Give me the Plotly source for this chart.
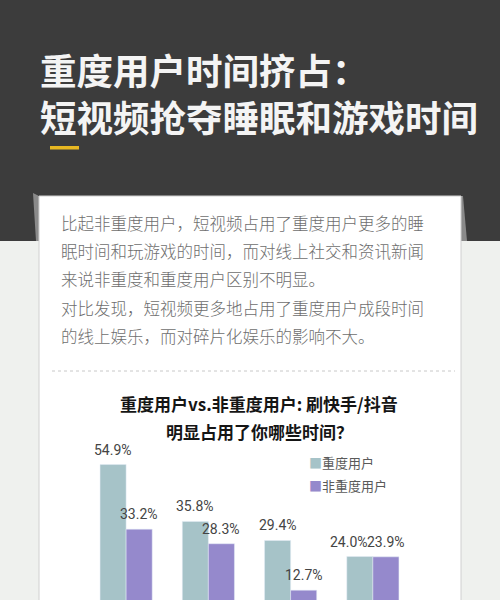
import plotly.graph_objects as go

W, H = 500, 600

# data (category labels are cut off at the bottom)
categories = ['睡眠时间', '玩游戏时间', '成段线上娱乐', '碎片化娱乐']
heavy = [54.9, 35.8, 29.4, 24.0]
light = [33.2, 28.3, 12.7, 23.9]
series_names = ['重度用户', '非重度用户']

colors = ['#a6c3c8', '#9589cc']
dark = '#3c3c3c'
page_bg = '#eff1ee'

header = ['重度用户时间挤占：', '短视频抢夺睡眠和游戏时间']
intro = [
    '比起非重度用户，短视频占用了重度用户更多的睡',
    '眠时间和玩游戏的时间，而对线上社交和资讯新闻',
    '来说非重度和重度用户区别不明显。',
    '对比发现，短视频更多地占用了重度用户成段时间',
    '的线上娱乐，而对碎片化娱乐的影响不大。',
]
chart_title = ['重度用户vs.非重度用户: 刷快手/抖音', '明显占用了你哪些时间？']

cjk = 'Noto Sans CJK SC'


def px(x):
    return x / W


def py(y):
    return 1 - y / H


def path(points):
    s = 'M' + ' L'.join('%.4f,%.4f' % (px(x), py(y)) for x, y in points)
    return s + ' Z'


fig = go.Figure()
for name, vals, c in zip(series_names, [heavy, light], colors):
    fig.add_trace(go.Bar(x=categories, y=vals, name=name, marker_color=c,
                         showlegend=False))

shapes = [
    # dark header block
    dict(type='rect', xref='paper', yref='paper', x0=0, x1=1,
         y0=py(241), y1=1, fillcolor=dark, line_width=0, layer='below'),
    # fold shadows at card corners
    dict(type='path', xref='paper', yref='paper',
         path=path([(33, 193), (39, 196), (39, 241), (36, 241)]),
         fillcolor='#8a8a8a', line_width=0, layer='below'),
    dict(type='path', xref='paper', yref='paper',
         path=path([(461, 196), (463, 196), (467, 241), (461, 241)]),
         fillcolor='#8a8a8a', line_width=0, layer='below'),
    # white card
    dict(type='rect', xref='paper', yref='paper', x0=px(39), x1=px(461),
         y0=-0.01, y1=py(196), fillcolor='white',
         line=dict(color='#d0d0d0', width=1), layer='below'),
    # yellow accent
    dict(type='rect', xref='paper', yref='paper', x0=px(50), x1=px(79),
         y0=py(149.5), y1=py(146), fillcolor='#e8b822', line_width=0),
    # dotted separator
    dict(type='line', xref='paper', yref='paper', x0=px(52), x1=px(455),
         y0=py(371), y1=py(371), line=dict(color='#c8c8c8', width=1, dash='dot')),
]

annotations = [dict(
    text='<b>' + '<br>'.join(header) + '</b>', x=px(38), y=py(93.3),
    xref='paper', yref='paper', xanchor='left', yanchor='middle', align='left',
    showarrow=False, font=dict(family=cjk, size=36.5, color='#f4f4f4'))]
for i, t in enumerate(intro):
    annotations.append(dict(
        text=t, x=px(59), y=py(223 + i * 28.2), xref='paper', yref='paper',
        xanchor='left', yanchor='middle', showarrow=False,
        font=dict(family=cjk, size=16.5, color='#6e6e6e', weight=300)))
for i, t in enumerate(chart_title):
    annotations.append(dict(
        text='<b>%s</b>' % t, x=px(259), y=py(403 + i * 28), xref='paper', yref='paper',
        xanchor='center', yanchor='middle', showarrow=False,
        font=dict(family=cjk, size=17, color='#151515')))
# legend
for i, (name, c) in enumerate(zip(series_names, colors)):
    annotations.append(dict(
        text='<span style="color:%s">■</span>%s' % (c, name),
        x=px(307), y=py(463 + i * 22), xref='paper', yref='paper',
        xanchor='left', yanchor='middle', showarrow=False,
        font=dict(family=cjk, size=13, color='#5a5a5a')))

# value labels above the bars; when a pair is nearly equal the left label
# is pushed aside so the two do not run into each other
for j, cat in enumerate(categories):
    tie = abs(heavy[j] - light[j]) < 3
    for k, vals in enumerate([heavy, light]):
        shift = -13 if k == 0 else 13
        if tie and k == 0:
            shift -= 11
        annotations.append(dict(
            text='%.1f%%' % vals[j], x=cat, y=vals[j], xref='x', yref='y',
            xanchor='center', yanchor='bottom', xshift=shift, yshift=5,
            showarrow=False, font=dict(family='Roboto', size=14, color='#444444')))

fig.update_layout(
    width=W, height=H,
    margin=dict(l=0, r=0, t=0, b=0),
    paper_bgcolor=page_bg, plot_bgcolor='rgba(0,0,0,0)',
    barmode='group', bargap=0.366, bargroupgap=0,
    shapes=shapes, annotations=annotations,
    xaxis=dict(domain=[px(85), px(414)], showticklabels=False, showgrid=False,
               zeroline=False, showline=False),
    yaxis=dict(domain=[0, 160 / H], range=[9.4, 63.15], showticklabels=False,
               showgrid=False, zeroline=False, showline=False),
)

# drop the default page margin so the figure sits at the window's corner
fig.write_html('out.html', config={'displayModeBar': False},
               post_script="document.body.style.margin='0';")
